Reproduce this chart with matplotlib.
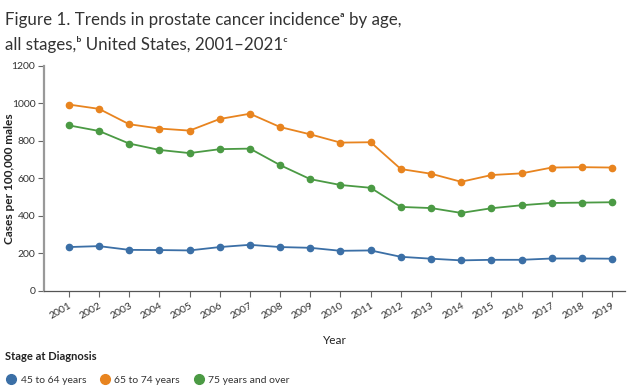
import matplotlib
matplotlib.use("Agg")
import matplotlib.pyplot as plt
from matplotlib.lines import Line2D

years = list(range(2001, 2020))
age_45_64 = [234, 239, 219, 218, 216, 234, 246, 234, 230, 214, 216, 182, 172, 163, 166, 166, 173, 173, 172]
age_65_74 = [994, 971, 889, 866, 855, 917, 945, 874, 835, 791, 793, 650, 625, 582, 618, 627, 658, 660, 658]
age_75_up = [883, 853, 786, 752, 735, 756, 759, 671, 596, 565, 550, 448, 442, 416, 441, 457, 469, 471, 473]
series_labels = ["45 to 64 years", "65 to 74 years", "75 years and over"]
colors = ["#3b6fa6", "#e8841f", "#4b9a44"]

plt.rcParams['font.family'] = ['Lato', 'DejaVu Sans']

fig = plt.figure(figsize=(6.34, 3.9), dpi=100)
ax = fig.add_axes([0.069, 0.254, 0.917, 0.577])

for vals, c in zip([age_45_64, age_65_74, age_75_up], colors):
    ax.plot(years, vals, color=c, lw=1.3, marker="o", ms=4.5, mec=c, mfc=c)

ax.set_xlim(2000.17, 2019.43)
ax.set_ylim(0, 1200)
ax.set_yticks(range(0, 1201, 200))
ax.set_xticks(years)
ax.set_xticklabels([str(y) for y in years], rotation=30, ha="right",
                   rotation_mode="anchor", fontsize=7.5, color="#333333")
ax.tick_params(axis="y", labelsize=7.5, labelcolor="#333333", length=4, color="#666666", pad=2)
ax.tick_params(axis="x", length=4, color="#666666")
for s in ["top", "right"]:
    ax.spines[s].set_visible(False)
ax.spines["left"].set_color("#999999")
ax.spines["left"].set_linewidth(1.6)
ax.spines["bottom"].set_color("#555555")
ax.spines["bottom"].set_linewidth(0.9)

ax.set_ylabel("Cases per 100,000 males", fontsize=8.6, fontweight="bold", color="#222222")
ax.yaxis.set_label_coords(-0.05, 0.5)
ax.set_xlabel("Year", fontsize=8.5, color="#222222", labelpad=10)

fig.text(0.008, 0.95, "Figure 1. Trends in prostate cancer incidence\u1d43 by age,",
         fontsize=12.2, color="#333333", va="center")
fig.text(0.008, 0.885, "all stages,\u1d47 United States, 2001\u20132021\u1d9c",
         fontsize=12.2, color="#333333", va="center")

fig.text(0.008, 0.085, "Stage at Diagnosis", fontsize=8, fontweight="bold", color="#222222", va="center")
handles = [Line2D([], [], ls="none", marker="o", ms=7, mfc=c, mec=c) for c in colors]
fig.legend(handles, series_labels, loc="center left", bbox_to_anchor=(-0.005, 0.025),
           ncol=3, frameon=False, fontsize=7.5, handletextpad=0.4, columnspacing=1.3,
           handlelength=1.0, labelcolor="#333333")

fig.savefig("out.png", dpi=100)
